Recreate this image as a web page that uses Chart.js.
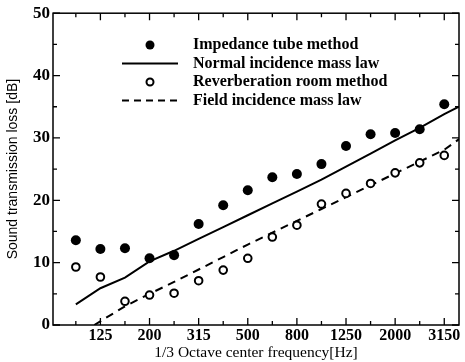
<!DOCTYPE html>
<html>
<head>
<meta charset="utf-8">
<script src="https://cdn.jsdelivr.net/npm/chart.js@4/dist/chart.umd.min.js"></script>
<style>
  html, body { margin: 0; padding: 0; background: #fff; }
  #wrap { width: 465px; height: 362px; }
</style>
</head>
<body>
<div id="wrap"><canvas id="tlChart" width="465" height="362"></canvas></div>
<script>
// 1/3 octave bands (x = band index)
const bandLabels = ['100', '125', '160', '200', '250', '315', '400', '500',
                    '630', '800', '1000', '1250', '1600', '2000', '2500', '3150'];
const labelledBands = [1, 3, 5, 7, 9, 11, 13, 15];

// measured values [dB]
const tubeMethod   = [13.6, 12.2, 12.3, 10.7, 11.2, 16.2, 19.2, 21.6, 23.7, 24.2, 25.8, 28.7, 30.6, 30.8, 31.4, 35.4];
const reverbMethod = [9.3, 7.7, 3.8, 4.8, 5.1, 7.1, 8.8, 10.7, 14.1, 16.0, 19.4, 21.1, 22.7, 24.4, 26.0, 27.2];

// mass law curves (band index, dB)
const normalLawX = [0, 1, 2, 3, 4, 5, 6, 7, 8, 9, 10, 11, 12, 13, 14, 15, 15.6];
const normalLawY = [3.3, 5.9, 7.6, 10.2, 11.9, 13.8, 15.7, 17.6, 19.5, 21.4, 23.3, 25.4, 27.5, 29.6, 31.6, 33.8, 35.0];
const fieldLawX  = [0.75, 2, 3, 4, 5, 6, 7, 8, 9, 10, 11, 12, 13, 14, 15, 15.6];
const fieldLawY  = [0, 3.0, 5.0, 6.9, 8.9, 10.9, 12.9, 14.8, 16.7, 18.6, 20.5, 22.4, 24.3, 26.2, 28.1, 29.8];

const yTicks = [0, 10, 20, 30, 40, 50];

const serif = "'Liberation Serif', 'DejaVu Serif', serif";
const sans = "'Liberation Sans', Arial, sans-serif";

const toXY = (xs, ys) => xs.map((x, i) => ({ x: x, y: ys[i] }));
const bandXY = ys => ys.map((y, i) => ({ x: i, y: y }));

// inward tick marks on all four sides + closed frame
const frameTicks = {
  id: 'frameTicks',
  afterDraw(chart) {
    const { ctx, chartArea: a, scales: { x, y } } = chart;
    ctx.save();
    ctx.strokeStyle = '#000';
    ctx.lineWidth = 1.5;
    ctx.strokeRect(a.left, a.top, a.right - a.left, a.bottom - a.top);
    ctx.lineWidth = 1.3;
    ctx.beginPath();
    bandLabels.forEach((_, i) => {
      const px = x.getPixelForValue(i);
      const len = labelledBands.includes(i) ? 7 : 4;
      ctx.moveTo(px, a.bottom); ctx.lineTo(px, a.bottom - len);
      ctx.moveTo(px, a.top);    ctx.lineTo(px, a.top + len);
    });
    for (let v = 0; v <= 50; v += 5) {
      const py = y.getPixelForValue(v);
      const len = v % 10 === 0 ? 7 : 4;
      ctx.moveTo(a.left, py);  ctx.lineTo(a.left + len, py);
      ctx.moveTo(a.right, py); ctx.lineTo(a.right - len, py);
    }
    ctx.stroke();
    ctx.restore();
  }
};

// legend drawn inside the plot, like the original figure
const innerLegend = {
  id: 'innerLegend',
  afterDraw(chart) {
    const ctx = chart.ctx;
    const rows = [
      { text: 'Impedance tube method', kind: 'dot' },
      { text: 'Normal incidence mass law', kind: 'solid' },
      { text: 'Reverberation room method', kind: 'ring' },
      { text: 'Field incidence mass law', kind: 'dash' }
    ];
    const x0 = 122, x1 = 178, tx = 193;
    let yy = 45;
    ctx.save();
    ctx.fillStyle = '#000';
    ctx.strokeStyle = '#000';
    ctx.font = 'bold 16px ' + serif;
    ctx.textBaseline = 'middle';
    rows.forEach(r => {
      if (r.kind === 'dot') {
        ctx.beginPath(); ctx.arc((x0 + x1) / 2, yy, 4.5, 0, Math.PI * 2); ctx.fill();
      } else if (r.kind === 'ring') {
        ctx.lineWidth = 2;
        ctx.beginPath(); ctx.arc((x0 + x1) / 2, yy, 3.5, 0, Math.PI * 2); ctx.stroke();
      } else {
        ctx.lineWidth = 2;
        ctx.setLineDash(r.kind === 'dash' ? [7, 5] : []);
        ctx.beginPath(); ctx.moveTo(x0, yy); ctx.lineTo(x1, yy); ctx.stroke();
        ctx.setLineDash([]);
      }
      ctx.fillText(r.text, tx, yy);
      yy += 18.5;
    });
    ctx.restore();
  }
};

new Chart(document.getElementById('tlChart'), {
  type: 'scatter',
  data: {
    datasets: [
      {
        label: 'Impedance tube method',
        data: bandXY(tubeMethod),
        pointRadius: 5,
        pointBackgroundColor: '#000',
        pointBorderColor: '#000',
        pointBorderWidth: 0,
        showLine: false
      },
      {
        label: 'Normal incidence mass law',
        data: toXY(normalLawX, normalLawY),
        showLine: true,
        borderColor: '#000',
        borderWidth: 2,
        pointRadius: 0,
        tension: 0
      },
      {
        label: 'Reverberation room method',
        data: bandXY(reverbMethod),
        pointRadius: 3.8,
        pointBackgroundColor: '#fff',
        pointBorderColor: '#000',
        pointBorderWidth: 2,
        showLine: false
      },
      {
        label: 'Field incidence mass law',
        data: toXY(fieldLawX, fieldLawY),
        showLine: true,
        borderColor: '#000',
        borderWidth: 2,
        borderDash: [8, 6],
        pointRadius: 0,
        tension: 0
      }
    ]
  },
  options: {
    responsive: false,
    animation: false,
    layout: { padding: { top: 13, right: 2, left: 0, bottom: 0 } },
    plugins: {
      legend: { display: false },
      tooltip: { enabled: false }
    },
    scales: {
      x: {
        type: 'linear',
        min: -0.93,
        max: 15.6,
        grid: { display: false, drawTicks: false },
        border: { display: false },
        afterBuildTicks: s => { s.ticks = labelledBands.map(v => ({ value: v })); },
        afterFit: s => { s.height = 37; },
        ticks: {
          autoSkip: false,
          maxRotation: 0,
          padding: 2,
          color: '#000',
          font: { family: serif, size: 16, weight: 'bold', lineHeight: 1.1 },
          callback: v => bandLabels[v]
        },
        title: {
          display: true,
          text: '1/3 Octave center frequency[Hz]',
          color: '#000',
          padding: { top: 5, bottom: 0 },
          font: { family: serif, size: 15.5 }
        }
      },
      y: {
        min: 0,
        max: 50,
        grid: { display: false, drawTicks: false },
        border: { display: false },
        afterBuildTicks: s => { s.ticks = yTicks.map(v => ({ value: v })); },
        afterFit: s => { s.width = 53; },
        ticks: {
          padding: 3,
          color: '#000',
          font: { family: serif, size: 17, weight: 'bold' }
        },
        title: {
          display: true,
          text: 'Sound transmission loss [dB]',
          color: '#000',
          padding: { top: 5, bottom: 0 },
          font: { family: sans, size: 14 }
        }
      }
    }
  },
  plugins: [frameTicks, innerLegend]
});
</script>
</body>
</html>
